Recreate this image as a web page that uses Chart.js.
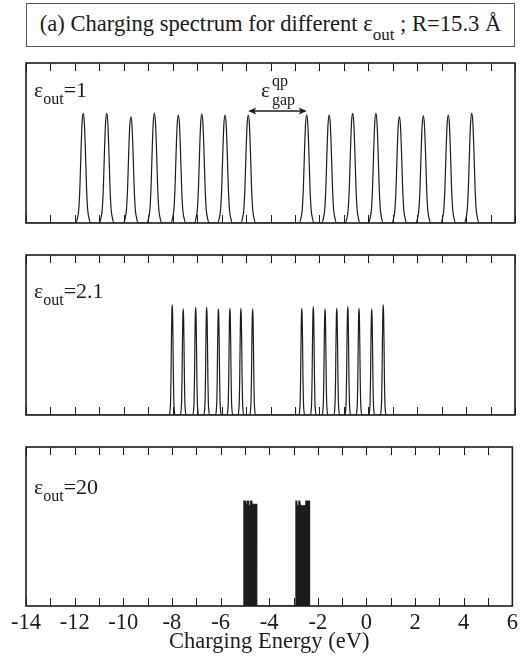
<!DOCTYPE html>
<html>
<head>
<meta charset="utf-8">
<script src="https://cdn.jsdelivr.net/npm/chart.js@4.4.1/dist/chart.umd.min.js"></script>
<style>
  body { margin: 0; background: #fff; font-family: "Liberation Serif", "Times New Roman", Times, "DejaVu Serif", serif; color: #1a1a1a; }
  #wrap { position: relative; width: 522px; height: 660px; }
  canvas { position: absolute; left: 0; }
  .title { position: absolute; left: 26px; top: 3px; width: 487px; height: 42px; border: 1px solid #555;
           font-size: 22.6px; line-height: 40px; text-align: center; white-space: nowrap; }
  .title .sub { font-size: 17px; top: 9px; }
  .lbl { position: absolute; font-size: 22px; white-space: nowrap; line-height: 1; }
  .sub { font-size: 16px; position: relative; top: 7px; }
  .gap { position: absolute; font-size: 16px; line-height: 1; }
</style>
</head>
<body>
<div id="wrap">
  <div class="title">(a) Charging spectrum for different ε<span class="sub">out</span> ; R=15.3 Å</div>
  <canvas id="c1" width="522" height="176" style="top:55px"></canvas>
  <canvas id="c2" width="522" height="176" style="top:247px"></canvas>
  <canvas id="c3" width="522" height="221" style="top:439px"></canvas>
  <div class="lbl" style="left:34px; top:79px">ε<span class="sub">out</span>=1</div>
  <div class="lbl" style="left:34px; top:280px">ε<span class="sub">out</span>=2.1</div>
  <div class="lbl" style="left:34px; top:476px">ε<span class="sub">out</span>=20</div>
  <div class="lbl" style="left:261px; top:79px">ε</div>
  <div class="gap" style="left:272px; top:73px">qp</div>
  <div class="gap" style="left:272px; top:92px">gap</div>
</div>
<script>
// peak positions (eV) and heights
const energies1 = [-11.66, -10.70, -9.71, -8.75, -7.77, -6.81, -5.86, -4.91, -2.52, -1.60, -0.64, 0.31, 1.27, 2.25, 3.27, 4.23];
const heights1 = [0.685, 0.685, 0.664, 0.685, 0.675, 0.681, 0.675, 0.675, 0.675, 0.675, 0.685, 0.685, 0.664, 0.669, 0.675, 0.685];

const energies2 = [-8.02, -7.57, -7.06, -6.61, -6.13, -5.66, -5.21, -4.73, -2.72, -2.25, -1.77, -1.29, -0.84, -0.38, 0.14, 0.61];
const heights2 = [0.688, 0.663, 0.673, 0.673, 0.663, 0.667, 0.667, 0.663, 0.667, 0.677, 0.663, 0.667, 0.677, 0.667, 0.663, 0.688];

// eps_out = 20: the peaks merge into two blocks, outline
const energies3 = [-5.04, -5.04, -4.99, -4.97, -4.92, -4.90, -4.86, -4.84, -4.78, -4.76, -4.72, -4.70, -4.52, -4.51,
                   -2.90, -2.90, -2.87, -2.85, -2.80, -2.78, -2.74, -2.72, -2.52, -2.49, -2.35, -2.34];
const levels3 = [0, 0.66, 0.66, 0.63, 0.63, 0.66, 0.66, 0.63, 0.63, 0.66, 0.66, 0.64, 0.64, 0,
                 0, 0.66, 0.66, 0.63, 0.63, 0.66, 0.66, 0.63, 0.63, 0.66, 0.66, 0];

const xMin = -14, xMax = 6;

// line shape of one peak, in units of its half base width / its height
const peakShape = [[-1, 0], [-0.8, 0.04], [-0.6, 0.13], [-0.45, 0.33], [-0.3, 0.66], [-0.15, 0.92], [0, 1],
                   [0.15, 0.92], [0.3, 0.66], [0.45, 0.33], [0.6, 0.13], [0.8, 0.04], [1, 0]];

function spectrum(centers, heights, halfWidth) {
    const pts = [{ x: xMin, y: 0 }];
    centers.forEach((c, i) => {
        peakShape.forEach(([u, f]) => pts.push({ x: c + u * halfWidth, y: heights[i] * f }));
    });
    pts.push({ x: xMax, y: 0 });
    return pts;
}

const ink = "#1c1c1c";
const serif = "'Liberation Serif', 'Times New Roman', Times, 'DejaVu Serif', serif";

// frame round the plot area and inward ticks on top and bottom edges
const framePlugin = {
    id: "frame",
    afterDraw(chart) {
        const { ctx, chartArea: a } = chart;
        const xs = chart.scales.x;
        ctx.save();
        ctx.strokeStyle = ink;
        ctx.lineWidth = 1.6;
        ctx.strokeRect(a.left, a.top, a.right - a.left, a.bottom - a.top);
        ctx.lineWidth = 1;
        xs.ticks.forEach(t => {
            const px = Math.round(xs.getPixelForValue(t.value)) + 0.5;
            ctx.beginPath();
            ctx.moveTo(px, a.top); ctx.lineTo(px, a.top + 8);
            ctx.moveTo(px, a.bottom); ctx.lineTo(px, a.bottom - 8);
            ctx.stroke();
        });
        ctx.restore();
    }
};

// double arrow marking the gap between the two peak series
const gapArrow = {
    id: "gapArrow",
    afterDraw(chart) {
        if (chart.canvas.id !== "c1") return;
        const { ctx } = chart;
        const x1 = chart.scales.x.getPixelForValue(energies1[7]);
        const x2 = chart.scales.x.getPixelForValue(energies1[8]);
        const y = chart.scales.y.getPixelForValue(0.70);
        ctx.save();
        ctx.strokeStyle = ink;
        ctx.fillStyle = ink;
        ctx.lineWidth = 1.3;
        ctx.beginPath();
        ctx.moveTo(x1 + 2, y); ctx.lineTo(x2 - 2, y);
        ctx.stroke();
        [[x1, 1], [x2, -1]].forEach(([x, d]) => {
            ctx.beginPath();
            ctx.moveTo(x, y);
            ctx.lineTo(x + d * 8, y - 3.5);
            ctx.lineTo(x + d * 6, y);
            ctx.lineTo(x + d * 8, y + 3.5);
            ctx.closePath();
            ctx.fill();
        });
        ctx.restore();
    }
};

function makePanel(id, points, fillBlack, showAxis) {
    return new Chart(document.getElementById(id), {
        type: "line",
        data: {
            datasets: [{
                data: points,
                borderColor: ink,
                borderWidth: 1.2,
                backgroundColor: ink,
                fill: fillBlack ? "origin" : false,
                pointRadius: 0,
                cubicInterpolationMode: fillBlack ? "default" : "monotone",
                tension: 0
            }]
        },
        options: {
            responsive: false,
            animation: false,
            events: [],
            layout: { padding: { left: 26, right: 7, top: 8, bottom: showAxis ? 0 : 8 } },
            plugins: { legend: { display: false }, tooltip: { enabled: false } },
            scales: {
                x: {
                    type: "linear",
                    min: xMin,
                    max: xMax,
                    display: showAxis,
                    grid: { display: false, drawTicks: false },
                    border: { display: false },
                    ticks: {
                        stepSize: 1,
                        autoSkip: false,
                        maxRotation: 0,
                        maxTicksLimit: 30,
                        padding: 4,
                        color: ink,
                        font: { family: serif, size: 22.5 },
                        callback: v => (v % 2 === 0 ? String(v) : "")
                    },
                    title: {
                        display: showAxis,
                        text: "Charging Energy (eV)",
                        color: ink,
                        padding: { top: 0, bottom: 4 },
                        font: { family: serif, size: 22.5 }
                    },
                    afterFit: s => { if (showAxis) s.height = 54; }
                },
                y: { min: 0, max: 1, display: false }
            }
        },
        plugins: [framePlugin, gapArrow]
    });
}

makePanel("c1", spectrum(energies1, heights1, 0.3), false, false);
makePanel("c2", spectrum(energies2, heights2, 0.11), false, false);
makePanel("c3", energies3.map((e, i) => ({ x: e, y: levels3[i] })), true, true);
</script>
</body>
</html>
